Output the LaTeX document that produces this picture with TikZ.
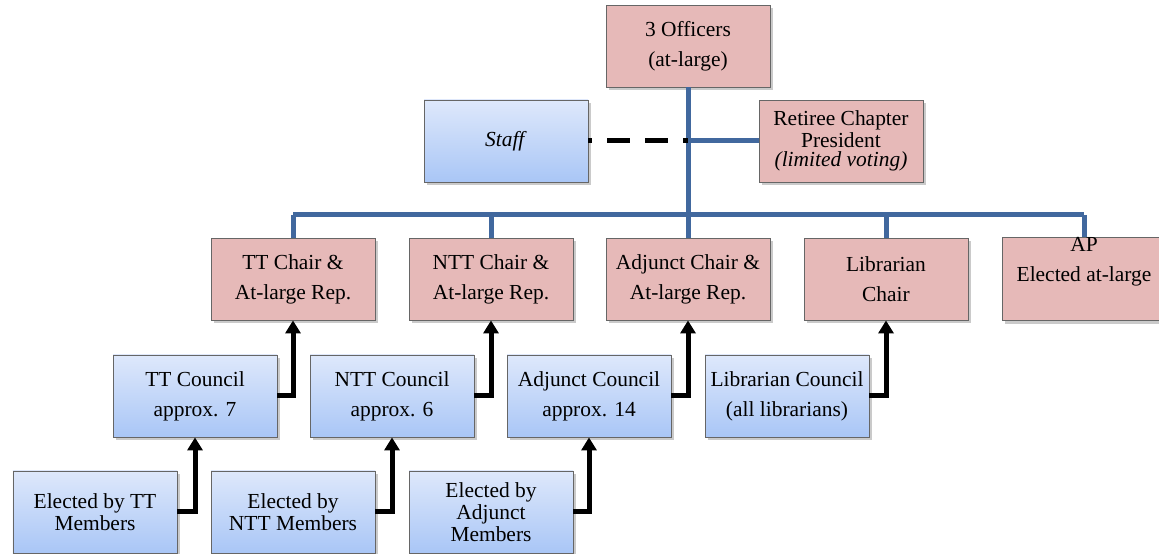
\documentclass[tikz,border=0pt]{standalone}
\usepackage{fontspec}
\setmainfont{Liberation Serif}
\usetikzlibrary{arrows.meta,shadows}
\definecolor{boxred}{HTML}{E6B9B8}
\definecolor{boxblue}{HTML}{A9C6F6}
\definecolor{boxbluetop}{HTML}{DEE8FB}
\definecolor{linkblue}{HTML}{41689E}
\begin{document}
\begin{tikzpicture}[x=0.2mm, y=-0.2mm, font=\fontsize{12.2}{17}\selectfont,
  box/.style={draw=black!60, line width=0.5pt, minimum width=32.8mm, minimum height=16.4mm,
    inner sep=0pt, align=center,
    drop shadow={shadow xshift=0.5mm, shadow yshift=-0.7mm, opacity=0.35, fill=black!60}},
  redbox/.style={box, fill=boxred},
  bluebox/.style={box, top color=boxbluetop, bottom color=boxblue},
  tight/.style={font=\fontsize{12.2}{12.5}\selectfont},
  tree/.style={linkblue, line width=1mm},
  vote/.style={black, line width=1mm, -{Triangle[width=3mm,length=2.6mm]}}]

\useasboundingbox (0,0) rectangle (1159,554);

% top
\node[redbox] (officers) at (688,46) {3 Officers\\(at-large)};
\node[bluebox] (staff) at (506,141) {\textit{Staff}};
\node[redbox, font=\fontsize{12.2}{11}\selectfont] (retiree) at (841,141)
  {Retiree Chapter\\President\\\textit{(limited voting)}};

% chairs
\node[redbox] (ttchair)  at (293,279) {TT Chair \&\\At-large Rep.};
\node[redbox] (nttchair) at (491,279) {NTT Chair \&\\At-large Rep.};
\node[redbox] (adjchair) at (688,279) {Adjunct Chair \&\\At-large Rep.};
\node[redbox] (libchair) at (886,279) {Librarian\\Chair};
\node[redbox] (ap)       at (1084,279) {AP\\Elected at-large\\\strut};

% councils
\node[bluebox] (ttcouncil)  at (195,396) {TT Council\\approx. 7};
\node[bluebox] (nttcouncil) at (392,396) {NTT Council\\approx. 6};
\node[bluebox] (adjcouncil) at (589,396) {Adjunct Council\\approx. 14};
\node[bluebox] (libcouncil) at (787,396) {Librarian Council\\(all librarians)};

% members
\node[bluebox, tight] (ttelect)  at (95,512)  {Elected by TT\\Members};
\node[bluebox, tight] (nttelect) at (293,512) {Elected by\\NTT Members};
\node[bluebox, tight] (adjelect) at (491,512) {Elected by\\Adjunct\\Members};

\coordinate (bar) at (688,215);

\begin{scope}[tree]
\draw (officers.south) -- (officers.south |- bar);
\draw (ttchair.north |- bar) -- (ap.north |- bar);
\foreach \n in {ttchair,nttchair,adjchair,libchair,ap}{
\draw (\n.north |- bar) -- (\n.north);
}
\draw (officers.south |- retiree.west) -- (retiree.west);
\end{scope}

\draw[black, line width=1mm, dash=on 4.6mm off 3mm phase 3.8mm]
  (staff.east) -- (officers.south |- staff.east);

\foreach \a/\b in {ttcouncil/ttchair, nttcouncil/nttchair, adjcouncil/adjchair,
  libcouncil/libchair, ttelect/ttcouncil, nttelect/nttcouncil, adjelect/adjcouncil}{
\draw[vote] (\a.east) -| (\b.south);
}
\end{tikzpicture}
\end{document}
